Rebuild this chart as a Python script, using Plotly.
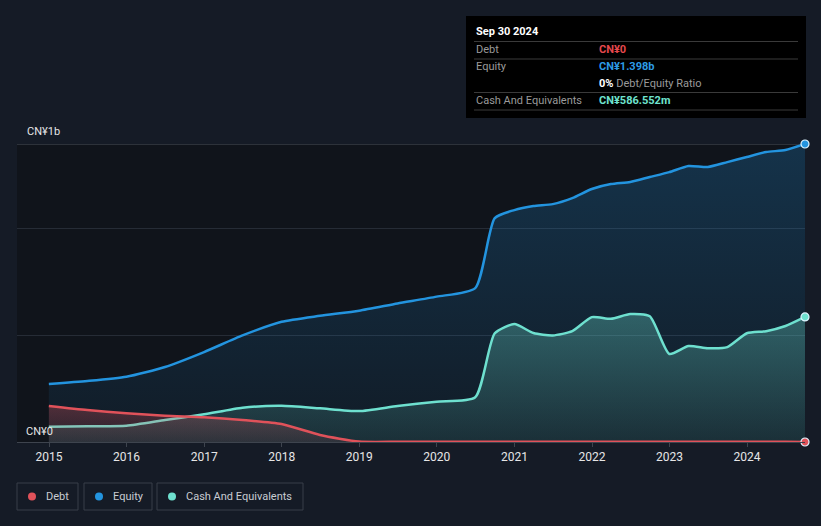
import plotly.graph_objects as go

# quarter / half-year reporting dates
dates = ["2014-12-31", "2015-06-30", "2015-12-31", "2016-06-30", "2016-12-31",
         "2017-06-30", "2017-12-31", "2018-06-30", "2018-12-31", "2019-06-30",
         "2019-12-31", "2020-06-30", "2020-09-30", "2020-12-31", "2021-03-31",
         "2021-06-30", "2021-09-30", "2021-12-31", "2022-03-31", "2022-06-30",
         "2022-09-30", "2022-12-31", "2023-03-31", "2023-06-30", "2023-09-30",
         "2023-12-31", "2024-03-31", "2024-06-30", "2024-09-30"]

# values in CN¥ billions
equity = [0.272, 0.286, 0.306, 0.352, 0.422, 0.500, 0.564, 0.592, 0.616, 0.650,
          0.682, 0.722, 1.050, 1.088, 1.107, 1.116, 1.144, 1.187, 1.210, 1.220,
          1.243, 1.266, 1.295, 1.290, 1.313, 1.337, 1.360, 1.370, 1.398]
cash = [0.072, 0.074, 0.076, 0.103, 0.130, 0.161, 0.170, 0.158, 0.145, 0.169,
        0.189, 0.210, 0.510, 0.553, 0.511, 0.500, 0.520, 0.586, 0.578, 0.600,
        0.590, 0.413, 0.450, 0.440, 0.445, 0.510, 0.520, 0.544, 0.5866]
debt = [0.169, 0.150, 0.135, 0.123, 0.116, 0.103, 0.084, 0.033, 0.002, 0.001,
        0.001, 0.001, 0.001, 0.001, 0.001, 0.001, 0.001, 0.001, 0.001, 0.001,
        0.001, 0.001, 0.001, 0.001, 0.001, 0.001, 0.001, 0.001, 0.0]

year_ticks = ["2015-01-01", "2016-01-01", "2017-01-01", "2018-01-01", "2019-01-01",
              "2020-01-01", "2021-01-01", "2022-01-01", "2023-01-01", "2024-01-01"]
year_labels = ["2015", "2016", "2017", "2018", "2019", "2020", "2021", "2022", "2023", "2024"]

C_DEBT = "#e0525a"
C_EQ = "#2394df"
C_CASH = "#6ee0cf"
BG = "#151b26"
PLOT_BG = "#10141b"

W, H = 821, 526
L, R, T, B = 17, 805, 144, 442   # plot area in pixels


def px(x):
    return (x - L) / (R - L)


def py(y):
    return (B - y) / (B - T)


fig = go.Figure()

series = [
    ("Equity", equity, C_EQ, [[0, "rgba(35,148,223,0.06)"], [1, "rgba(35,148,223,0.24)"]]),
    ("Cash And Equivalents", cash, C_CASH, [[0, "rgba(110,224,207,0.10)"], [1, "rgba(110,224,207,0.32)"]]),
    ("Debt", debt, C_DEBT, [[0, "rgba(224,82,90,0.10)"], [1, "rgba(224,82,90,0.30)"]]),
]
for name, vals, col, grad in series:
    fig.add_trace(go.Scatter(
        x=dates, y=vals, name=name, mode="lines",
        line=dict(color=col, width=2.5, shape="spline", smoothing=0.6),
        fill="tozeroy", fillgradient=dict(type="vertical", colorscale=grad),
        hoverinfo="skip", showlegend=False))

# end-point markers
for name, vals, col, grad in series:
    fig.add_trace(go.Scatter(
        x=[dates[-1]], y=[vals[-1]], mode="markers", cliponaxis=False,
        marker=dict(size=8, color=col, line=dict(color="#dff4ff", width=1.2)),
        hoverinfo="skip", showlegend=False))

shapes = []
# top line at the max value
shapes.append(dict(type="line", xref="paper", yref="y", x0=0, x1=1, y0=equity[-1], y1=equity[-1],
                   line=dict(color="#4a505a", width=1), layer="below"))

annotations = [
    dict(text="CN¥1b", xref="paper", yref="paper", x=px(25), y=py(131), xanchor="left",
         yanchor="middle", showarrow=False, font=dict(size=11, color="#e6e6e6")),
    dict(text="CN¥0", xref="paper", yref="paper", x=px(24), y=py(431), xanchor="left",
         yanchor="middle", showarrow=False, font=dict(size=11, color="#e6e6e6")),
]

# tooltip box
shapes.append(dict(type="rect", xref="paper", yref="paper", x0=px(466), x1=px(806),
                   y0=py(118), y1=py(16), fillcolor="#000000", line=dict(width=0)))
for yy in [41.5, 59, 92.5, 110]:
    shapes.append(dict(type="line", xref="paper", yref="paper", x0=px(474), x1=px(798),
                       y0=py(yy), y1=py(yy), line=dict(color="#3a3a3a", width=1)))

tip_rows = [
    ("<b>Sep 30 2024</b>", 31, "#ffffff", 474),
    ("Debt", 49.5, "#9a9a9a", 474),
    ("Equity", 66, "#9a9a9a", 474),
    ("Cash And Equivalents", 100.5, "#9a9a9a", 474),
    ("<b>CN¥0</b>", 49.5, "#e5484d", 597),
    ("<b>CN¥1.398b</b>", 66, "#2d9be6", 597),
    ("<b><span style='color:#ffffff'>0%</span></b> Debt/Equity Ratio", 83, "#9a9a9a", 597),
    ("<b>CN¥586.552m</b>", 100.5, "#6fe3cf", 597),
]
for txt, yy, col, xx in tip_rows:
    annotations.append(dict(text=txt, xref="paper", yref="paper", x=px(xx), y=py(yy),
                            xanchor="left", yanchor="middle", showarrow=False,
                            font=dict(size=11, color=col)))

# legend boxes
legend_items = [("Debt", C_DEBT, 17, 78), ("Equity", C_EQ, 84, 152), ("Cash And Equivalents", C_CASH, 157, 303)]
for name, col, x0, x1 in legend_items:
    shapes.append(dict(type="rect", xref="paper", yref="paper", x0=px(x0), x1=px(x1),
                       y0=py(510), y1=py(483), line=dict(color="#383e49", width=1)))
    shapes.append(dict(type="circle", xref="paper", yref="paper", x0=px(x0 + 11), x1=px(x0 + 19),
                       y0=py(500.5), y1=py(492.5), fillcolor=col, line=dict(width=0)))
    annotations.append(dict(text=name, xref="paper", yref="paper", x=px(x0 + 27), y=py(496.5),
                            xanchor="left", yanchor="middle", showarrow=False,
                            font=dict(size=11, color="#c8ccd2")))

fig.update_layout(
    width=W, height=H,
    margin=dict(l=L, r=W - R, t=T, b=H - B),
    paper_bgcolor=BG, plot_bgcolor=PLOT_BG,
    font=dict(family="Roboto", size=11, color="#e6e6e6"),
    showlegend=False,
    shapes=shapes, annotations=annotations,
    xaxis=dict(type="date", range=["2014-08-03", "2024-09-30"],
               tickvals=year_ticks, ticktext=year_labels,
               showgrid=False, zeroline=False, showline=True, linecolor="#3e444e", linewidth=1,
               ticks="outside", ticklen=4, tickcolor="#3e444e",
               tickfont=dict(size=12, color="#e6e6e6")),
    yaxis=dict(range=[0, equity[-1]], tickvals=[0, 0.5, 1.0], showticklabels=False,
               showgrid=True, gridcolor="#262c36", gridwidth=1, zeroline=False, fixedrange=True),
)

# drop the page margin so the figure sits at the window's corner
fig.write_html("out.html", config={"displayModeBar": False},
               post_script="document.body.style.margin='0';document.body.style.overflow='hidden';")
